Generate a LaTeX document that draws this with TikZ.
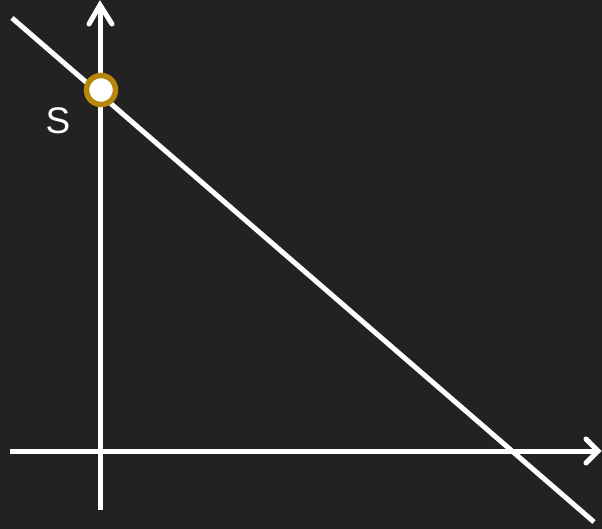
\documentclass[tikz,border=0pt]{standalone}
\usepackage{fontspec}
\setmainfont{Liberation Sans}
\definecolor{bg}{HTML}{222222}
\definecolor{gold}{HTML}{B8860B}
\tikzset{
  axisline/.style={draw=white, line width=5pt},
  chevron/.style={draw=white, line width=5pt, line cap=round, line join=miter},
  mainline/.style={draw=white, line width=5pt},
  pointmark/.style={circle, draw=gold, fill=white, line width=5.5pt, minimum size=29pt, inner sep=0pt},
  lbl/.style={text=white, font=\fontsize{37}{37}\selectfont, inner sep=0pt}
}
\begin{document}
\begin{tikzpicture}[x=1pt, y=-1pt]
  \fill[bg] (0,0) rectangle (602,529);
  \useasboundingbox (0,0) rectangle (602,529);
  % coordinates
  \coordinate (ybot) at (100,510);
  \coordinate (ytop) at (100,5);
  \coordinate (yl) at (89,24);
  \coordinate (yr) at (112,24);
  \coordinate (xleft) at (10,451);
  \coordinate (xright) at (598,451);
  \coordinate (xu) at (586,439);
  \coordinate (xd) at (586,463);
  \coordinate (dstart) at (12,18);
  \coordinate (dend) at (594,522);
  % axes
  \draw[axisline] (ybot) -- (ytop);
  \draw[chevron] (yl) -- (ytop) -- (yr);
  \draw[axisline] (xleft) -- (xright);
  \draw[chevron] (xu) -- (xright) -- (xd);
  % diagonal
  \draw[mainline] (dstart) -- (dend);
  % point
  \node[pointmark] (s) at (101,90) {};
  \node[lbl] (slabel) at (58,121) {S};
\end{tikzpicture}
\end{document}
